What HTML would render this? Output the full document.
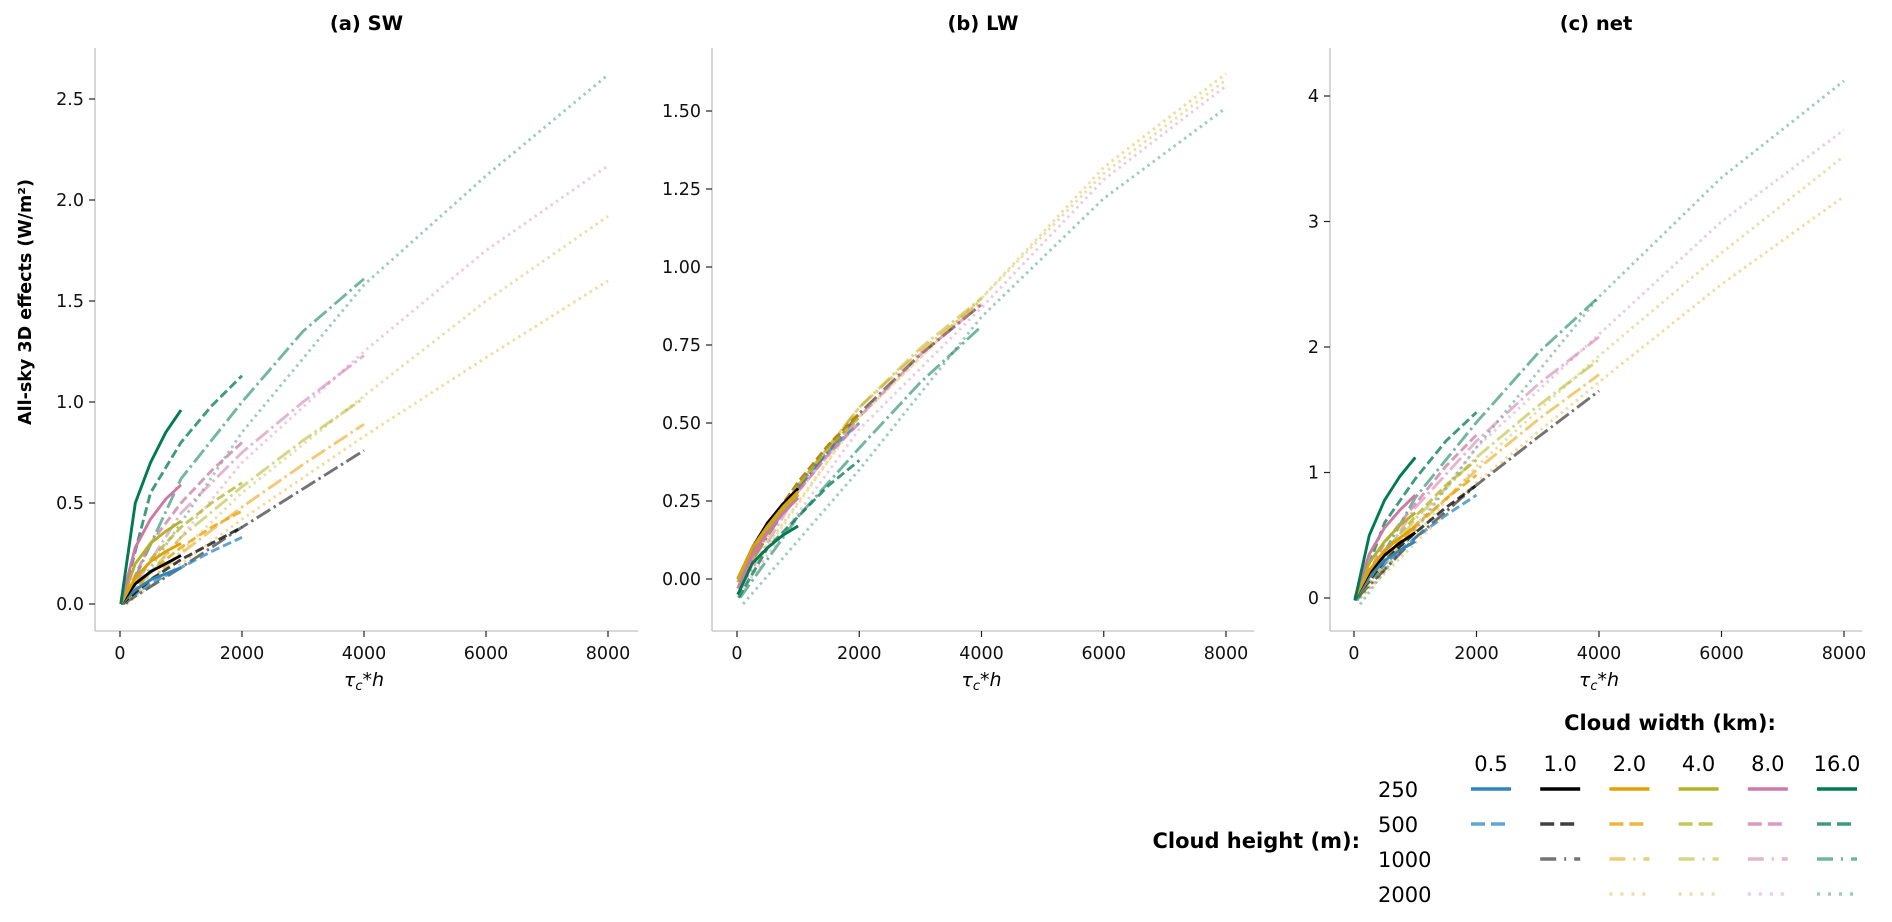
<!DOCTYPE html>
<html><head><meta charset="utf-8"><style>
html,body{margin:0;padding:0;background:#fff;}
svg{display:block;font-family:"DejaVu Sans","Liberation Sans",sans-serif;}
</style></head><body>
<svg id="chart" width="1892" height="922" viewBox="0 0 1892 922" xmlns="http://www.w3.org/2000/svg">
<text transform="translate(31,302) rotate(-90)" text-anchor="middle" font-size="17.5" font-weight="bold">All-sky 3D effects (W/m²)</text>
<g id="legend">
<text x="1670" y="730" text-anchor="middle" font-size="21" font-weight="bold">Cloud width (km):</text>
<text x="1360" y="848" text-anchor="end" font-size="21" font-weight="bold">Cloud height (m):</text>
</g>
</svg>
<script>
const tau = [0.05, 1, 2, 3, 4];
const heights = [250, 500, 1000, 2000];
const widths = ["0.5", "1.0", "2.0", "4.0", "8.0", "16.0"];
const xTicks = [0, 2000, 4000, 6000, 8000];
const swTicks = ["0.0","0.5","1.0","1.5","2.0","2.5"];
const lwTicks = ["0.00","0.25","0.50","0.75","1.00","1.25","1.50"];
const netTicks = ["0","1","2","3","4"];
// SW values per width: rows = heights 250,500,1000,2000 (null = absent)
const sw_05 = [[0,0.07,0.12,0.15,0.18],[0,0.1,0.18,0.26,0.33],null,null];
const sw_1 = [[0,0.1,0.16,0.2,0.24],[0,0.12,0.22,0.3,0.38],[0,0.18,0.38,0.57,0.76],null];
const sw_2 = [[0,0.13,0.21,0.26,0.3],[0,0.16,0.28,0.38,0.46],[0,0.25,0.48,0.69,0.89],[0,0.42,0.83,1.22,1.6]];
const sw_4 = [[0,0.2,0.3,0.36,0.41],[0,0.22,0.38,0.5,0.6],[0,0.33,0.58,0.81,1.02],[0,0.55,1.03,1.5,1.92]];
const sw_8 = [[0,0.28,0.42,0.52,0.59],[0,0.3,0.5,0.66,0.8],[0,0.45,0.75,1.0,1.23],[0,0.7,1.25,1.75,2.17]];
const sw_16 = [[0,0.5,0.7,0.85,0.96],[0,0.55,0.8,0.98,1.13],[0,0.62,1.0,1.35,1.61],[0,0.85,1.58,2.12,2.62]];
// LW values
const lw_05 = [[0,0.09,0.17,0.23,0.27],[0,0.16,0.3,0.41,0.5],null,null];
const lw_1 = [[0,0.1,0.18,0.24,0.29],[0,0.17,0.31,0.43,0.53],[0,0.29,0.53,0.72,0.88],null];
const lw_2 = [[0,0.1,0.17,0.23,0.28],[0,0.17,0.31,0.43,0.53],[0,0.3,0.55,0.73,0.89],[0,0.52,0.9,1.32,1.62]];
const lw_4 = [[-0.01,0.08,0.16,0.22,0.27],[-0.01,0.16,0.3,0.42,0.52],[-0.01,0.3,0.55,0.74,0.9],[-0.01,0.52,0.9,1.3,1.6]];
const lw_8 = [[-0.03,0.08,0.15,0.21,0.26],[-0.03,0.15,0.28,0.4,0.5],[-0.03,0.28,0.52,0.72,0.88],[-0.03,0.48,0.87,1.28,1.58]];
const lw_16 = [[-0.05,0.05,0.1,0.14,0.17],[-0.06,0.1,0.2,0.3,0.38],[-0.06,0.2,0.42,0.63,0.81],[-0.08,0.35,0.84,1.22,1.51]];
// net values
const net_05 = [[0,0.17,0.3,0.38,0.45],[0,0.27,0.48,0.66,0.82],null,null];
const net_1 = [[0,0.2,0.34,0.44,0.52],[0,0.3,0.52,0.72,0.9],[0,0.48,0.9,1.28,1.65],null];
const net_2 = [[0,0.22,0.38,0.48,0.57],[0,0.32,0.58,0.79,0.98],[0,0.56,1.02,1.42,1.78],[0,0.92,1.72,2.5,3.2]];
const net_4 = [[0,0.28,0.45,0.58,0.68],[0,0.37,0.65,0.9,1.1],[0,0.63,1.12,1.53,1.9],[0,1.05,1.93,2.75,3.52]];
const net_8 = [[0,0.35,0.56,0.7,0.82],[0,0.44,0.75,1.05,1.3],[0,0.72,1.25,1.7,2.08],[0,1.2,2.1,3.0,3.73]];
const net_16 = [[-0.02,0.5,0.78,0.97,1.12],[-0.02,0.6,0.95,1.25,1.48],[-0.02,0.8,1.4,1.95,2.4],[-0.05,1.2,2.4,3.35,4.12]];

const colors = ["#2f86bd","#000000","#e69f00","#b4b326","#cc79a7","#007a50"];
const alphas = [1, 0.75, 0.55, 0.38];
const dashes = ["", "9,4", "16,4,2.5,4", "2.5,4"];
const legendDashes = ["", "14,6", "16,8,2,8", "3,8"];
const NS = "http://www.w3.org/2000/svg";
const svgEl = document.getElementById('chart');
function mk(tag, attrs, parent){const e=document.createElementNS(NS,tag);for(const k in attrs)e.setAttribute(k,attrs[k]);(parent||svgEl).appendChild(e);return e;}

const panels = [
 {name:"sw", title:"(a) SW", left:95, right:638, x0:120, x8:608, y0:604, ppu:202, ticks:swTicks, tickVals:[0,0.5,1,1.5,2,2.5], data:[sw_05,sw_1,sw_2,sw_4,sw_8,sw_16]},
 {name:"lw", title:"(b) LW", left:712, right:1254, x0:737, x8:1226, y0:579, ppu:312, ticks:lwTicks, tickVals:[0,0.25,0.5,0.75,1,1.25,1.5], data:[lw_05,lw_1,lw_2,lw_4,lw_8,lw_16]},
 {name:"net", title:"(c) net", left:1330, right:1862, x0:1354, x8:1844, y0:598, ppu:125.5, ticks:netTicks, tickVals:[0,1,2,3,4], data:[net_05,net_1,net_2,net_4,net_8,net_16]}
];
const axisBottom = 631, axisTop = 48;
panels.forEach(p=>{
  const g = mk('g',{});
  
  
  const xs = v => p.x0 + (p.x8-p.x0)*v/8000;
  const ys = v => p.y0 - v*p.ppu;
  const t = mk('text',{x:(p.left+p.right)/2,y:30,'text-anchor':'middle','font-size':19.5,'font-weight':'bold'},g);
  t.textContent = p.title;
  
  
  const sl = mk('line',{x1:p.left,y1:axisTop,x2:p.left,y2:axisBottom,stroke:'#cccccc','stroke-width':1.6},g);
  
  
  const sb = mk('line',{x1:p.left,y1:axisBottom,x2:p.right,y2:axisBottom,stroke:'#cccccc','stroke-width':1.6},g);
  
  
  xTicks.forEach(v=>{
    const x = xs(v);
    mk('line',{x1:x,y1:axisBottom,x2:x,y2:axisBottom+6,stroke:'#222','stroke-width':1.2},g);
    const tl = mk('text',{x:x,y:axisBottom+28,'text-anchor':'middle','font-size':17.5,fill:'#111'},g);
    tl.textContent = v;
    
    
  });
  p.tickVals.forEach((v,i)=>{
    const y = ys(v);
    mk('line',{x1:p.left-6,y1:y,x2:p.left,y2:y,stroke:'#222','stroke-width':1.2},g);
    const tl = mk('text',{x:p.left-11,y:y+6,'text-anchor':'end','font-size':17.5,fill:'#111'},g);
    tl.textContent = p.ticks[i];
    
    
  });
  const xl = mk('text',{x:xs(4000),y:686,'text-anchor':'middle','font-size':19,'font-style':'italic'},g);
  xl.innerHTML = 'τ<tspan font-size="13" dy="4">c</tspan><tspan dy="-4">*h</tspan>';
  
  
  for(let hi=heights.length-1; hi>=0; hi--){
    p.data.forEach((series,wi)=>{
      const vals = series[hi];
      if(!vals) return;
      const pts = vals.map((v,k)=>xs(tau[k]*heights[hi]).toFixed(1)+','+ys(v).toFixed(1)).join(' ');
      const pl = mk('polyline',{points:pts,fill:'none',stroke:colors[wi],'stroke-opacity':alphas[hi],'stroke-width':2.9,'stroke-dasharray':dashes[hi]||'none','stroke-linejoin':'round'},g);
      
      
    });
  }
});
// legend
const lg = document.getElementById('legend');
const avail = [[1,1,0,0],[1,1,1,0],[1,1,1,1],[1,1,1,1],[1,1,1,1],[1,1,1,1]];
widths.forEach((w,wi)=>{
  const cx = 1491 + wi*69.2;
  const tl = mk('text',{x:cx,y:771,'text-anchor':'middle','font-size':21},lg);
  tl.textContent = w;
  
  
  heights.forEach((h,hi)=>{
    if(!avail[wi][hi]) return;
    const y = 789 + hi*35;
    const ln = mk('line',{x1:cx-20,y1:y,x2:cx+20,y2:y,stroke:colors[wi],'stroke-opacity':alphas[hi],'stroke-width':3.5,'stroke-dasharray':legendDashes[hi]||'none'},lg);
    
    
  });
});
heights.forEach((h,hi)=>{
  const tl = mk('text',{x:1378,y:797+hi*35,'text-anchor':'start','font-size':21},lg);
  tl.textContent = h;
  
  
});
</script>
</body></html>
